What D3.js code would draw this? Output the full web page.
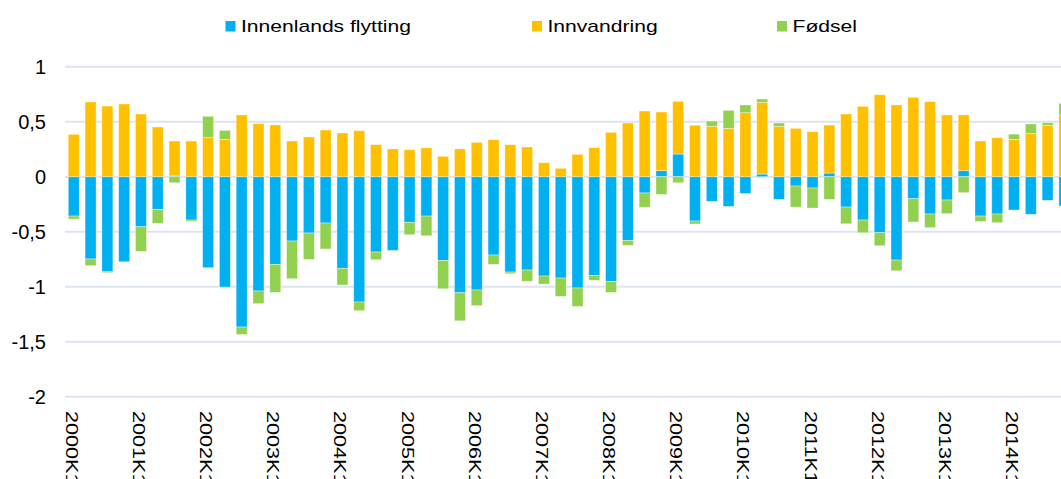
<!DOCTYPE html>
<html>
<head>
<meta charset="utf-8">
<script src="https://cdn.jsdelivr.net/npm/d3@7"></script>
<style>
  body { margin: 0; background: #fff; }
  svg { display: block; font-family: "Liberation Sans", Arial, sans-serif; }
</style>
</head>
<body>
<svg id="chart" width="1061" height="479"></svg>
<script>
// quarters 2000K1 .. 2014K4
const years = d3.range(2000, 2015);
const quarters = years.flatMap(y => [1, 2, 3, 4].map(q => y + 'K' + q));

const seriesNames = ['Innenlands flytting', 'Innvandring', 'Fødsel'];
const seriesColors = ['#00B0F0', '#FFC000', '#92D050'];

const innenlands = [
  -0.358, -0.748, -0.864, -0.773, -0.455, -0.297, 0.008, -0.394, -0.827, -1.003,
  -1.367, -1.039, -0.797, -0.585, -0.512, -0.421, -0.833, -1.139, -0.685, -0.670,
  -0.415, -0.358, -0.761, -1.055, -1.030, -0.712, -0.867, -0.848, -0.903, -0.921,
  -1.012, -0.897, -0.952, -0.579, -0.148, 0.055, 0.206, -0.403, -0.224, -0.270,
  -0.152, 0.024, -0.206, -0.085, -0.103, 0.033, -0.276, -0.394, -0.509, -0.758,
  -0.200, -0.339, -0.212, 0.055, -0.358, -0.339, -0.303, -0.342, -0.215, -0.267
];
const innvandring = [
  0.385, 0.679, 0.642, 0.661, 0.570, 0.452, 0.316, 0.324, 0.355, 0.339,
  0.561, 0.482, 0.470, 0.324, 0.361, 0.424, 0.397, 0.418, 0.291, 0.252,
  0.245, 0.261, 0.185, 0.252, 0.312, 0.336, 0.291, 0.270, 0.127, 0.076,
  0.203, 0.264, 0.403, 0.488, 0.597, 0.533, 0.479, 0.467, 0.458, 0.439,
  0.582, 0.652, 0.458, 0.439, 0.409, 0.436, 0.570, 0.639, 0.745, 0.652,
  0.721, 0.682, 0.561, 0.506, 0.324, 0.355, 0.339, 0.394, 0.467, 0.561
];
const fodsel = [
  -0.027, -0.061, -0.009, 0, -0.224, -0.127, -0.055, -0.012, 0.194, 0.082,
  -0.067, -0.115, -0.255, -0.342, -0.240, -0.236, -0.152, -0.079, -0.070, 0,
  -0.112, -0.179, -0.258, -0.255, -0.142, -0.085, -0.015, -0.103, -0.073, -0.167,
  -0.167, -0.045, -0.100, -0.045, -0.130, -0.161, -0.055, -0.027, 0.048, 0.164,
  0.070, 0.030, 0.030, -0.191, -0.182, -0.206, -0.152, -0.115, -0.118, -0.097,
  -0.212, -0.124, -0.124, -0.145, -0.048, -0.079, 0.048, 0.085, 0.024, 0.106
];

const yTicks = [1, 0.5, 0, -0.5, -1, -1.5, -2];

const table = quarters.map((q, i) => ({
  q: q,
  'Innenlands flytting': innenlands[i],
  'Innvandring': innvandring[i],
  'Fødsel': fodsel[i]
}));

const svg = d3.select('#chart');

const x = d3.scaleBand()
  .domain(quarters)
  .range([65.4, 1072.8])
  .paddingInner(0.345)
  .paddingOuter(0.1725);

const y = d3.scaleLinear()
  .domain([-2, 1])
  .range([396.7, 66.7]);

const color = d3.scaleOrdinal().domain(seriesNames).range(seriesColors);

// gridlines
svg.append('g')
  .selectAll('line')
  .data(yTicks)
  .join('line')
  .attr('x1', 65)
  .attr('x2', 1061)
  .attr('y1', d => y(d))
  .attr('y2', d => y(d))
  .attr('stroke', '#DCE4F1')
  .attr('stroke-width', 2);

// y labels
const fmt = d => String(d).replace('.', ',');
svg.append('g')
  .selectAll('text')
  .data(yTicks)
  .join('text')
  .attr('x', 46)
  .attr('y', d => y(d))
  .attr('dy', '0.36em')
  .attr('text-anchor', 'end')
  .attr('font-size', 20)
  .attr('fill', '#000')
  .text(fmt);

// stacked bars
const stack = d3.stack()
  .keys(seriesNames)
  .offset(d3.stackOffsetDiverging);

const layers = stack(table);

svg.append('g')
  .selectAll('g')
  .data(layers)
  .join('g')
  .attr('fill', d => color(d.key))
  .selectAll('rect')
  .data(d => d)
  .join('rect')
  .attr('x', d => x(d.data.q))
  .attr('width', x.bandwidth())
  .attr('y', d => y(Math.max(d[0], d[1])))
  .attr('height', d => Math.abs(y(d[0]) - y(d[1])))
  .attr('stroke', '#fff')
  .attr('stroke-opacity', 0.45)
  .attr('stroke-width', 0.8);

// x labels, only K1
const xStretch = 1.27;
svg.append('g')
  .selectAll('text')
  .data(quarters.filter(q => q.endsWith('K1')))
  .join('text')
  .attr('transform', d => `translate(${x(d) + x.bandwidth() / 2},411) rotate(90)`)
  .attr('dy', '0.47em')
  .attr('text-anchor', 'start')
  .attr('font-size', 17)
  .attr('fill', '#000')
  .text(d => d)
  .each(function() {
    const w = this.getComputedTextLength();
    d3.select(this).attr('textLength', w * xStretch).attr('lengthAdjust', 'spacingAndGlyphs');
  });

// legend
const legendX = [225.5, 532, 777];
const legendStretch = 1.24;
const legend = svg.append('g')
  .selectAll('g')
  .data(seriesNames)
  .join('g')
  .attr('transform', (d, i) => `translate(${legendX[i]},0)`);

legend.append('rect')
  .attr('x', 0)
  .attr('y', 21)
  .attr('width', 10)
  .attr('height', 10.5)
  .attr('fill', d => color(d));

legend.append('text')
  .attr('x', 15.5)
  .attr('y', 32.3)
  .attr('font-size', 17)
  .attr('fill', '#000')
  .text(d => d)
  .each(function() {
    const w = this.getComputedTextLength();
    d3.select(this).attr('textLength', w * legendStretch).attr('lengthAdjust', 'spacingAndGlyphs');
  });
</script>
</body>
</html>
